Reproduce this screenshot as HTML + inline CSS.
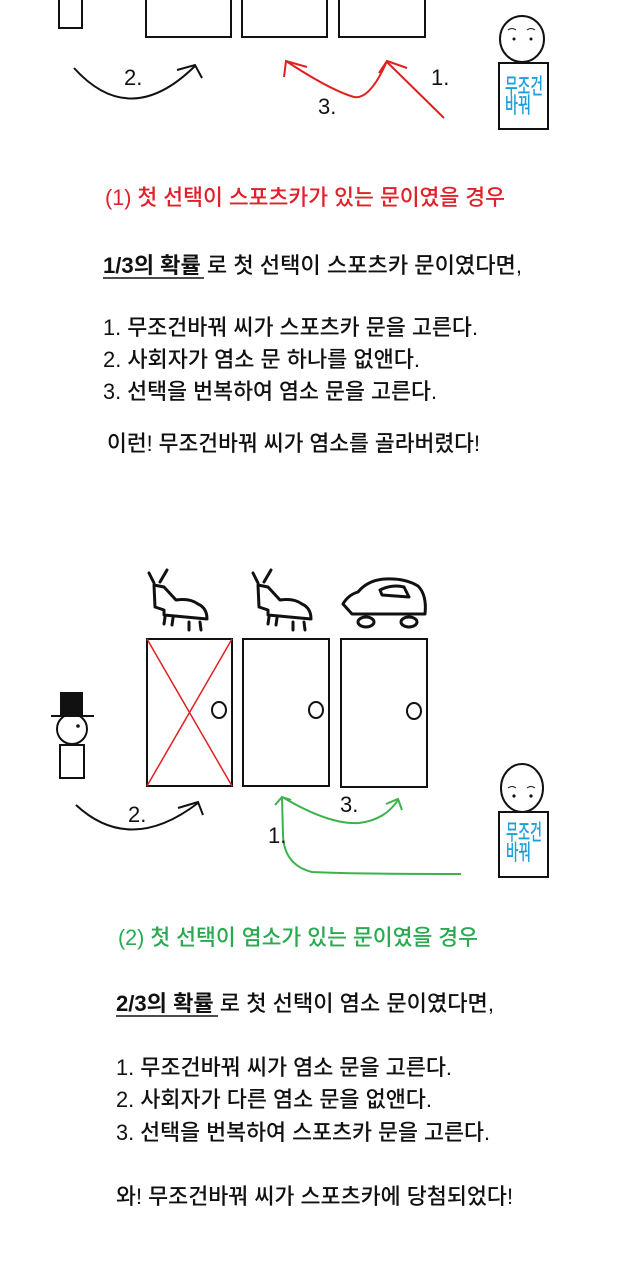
<!DOCTYPE html>
<html><head><meta charset="utf-8"><style>
html,body{margin:0;padding:0;background:#fff;width:640px;height:1280px;overflow:hidden}
text{font-family:"Liberation Sans","Noto Sans CJK KR",sans-serif;font-size:22px;font-weight:500}
</style></head><body>
<svg width="640" height="1280" viewBox="0 0 640 1280" xmlns="http://www.w3.org/2000/svg">
<g fill="none" stroke="#111" stroke-width="2">
<!-- top section -->
<rect x="59" y="-2" width="23" height="30"/>
<rect x="146" y="-2" width="85" height="39"/>
<rect x="242" y="-2" width="85" height="39"/>
<rect x="339" y="-2" width="86" height="39"/>
<ellipse cx="522" cy="39" rx="22" ry="23"/>
<rect x="499" y="63" width="49" height="66"/>
<path d="M74 68 Q130 130 195 66"/>
<path d="M177 70 L195 65 L202 78"/>
</g>
<circle cx="514" cy="39" r="1.5" fill="#111"/><circle cx="531" cy="39" r="1.5" fill="#111"/>
<path d="M508 30 Q512 27 516 30 M527 30 Q531 27 535 30" stroke="#111" fill="none" stroke-width="1"/>
<g fill="none" stroke="#e02020" stroke-width="2">
<path d="M286 61 Q330 90 354 97 Q370 100 387 61"/>
<path d="M284 77 L286 61 L307 67"/>
<path d="M379 73 L387 61 L407 68"/>
<path d="M444 118 L387 62"/>
</g>
<text x="124" y="85" font-size="13" fill="#111">2.</text>
<text x="431" y="85" font-size="13" fill="#111">1.</text>
<text x="318" y="114" font-size="13" fill="#111">3.</text>
<text x="505" y="94" font-size="14" fill="#1a9fdc" textLength="38" lengthAdjust="spacingAndGlyphs">무조건</text>
<text x="505" y="113" font-size="14" fill="#1a9fdc" textLength="26" lengthAdjust="spacingAndGlyphs">바꿔</text>

<text x="105" y="205" fill="#e0202a" textLength="400" lengthAdjust="spacingAndGlyphs">(1) 첫 선택이 스포츠카가 있는 문이였을 경우</text>
<text x="103" y="273" fill="#111" textLength="419" lengthAdjust="spacingAndGlyphs"><tspan font-weight="bold">1/3의 확률</tspan> 로 첫 선택이 스포츠카 문이였다면,</text>
<line x1="103" y1="278" x2="204" y2="278" stroke="#111" stroke-width="1.5"/>
<text x="103" y="335" fill="#111" textLength="375" lengthAdjust="spacingAndGlyphs">1. 무조건바꿔 씨가 스포츠카 문을 고른다.</text>
<text x="103" y="367" fill="#111" textLength="317" lengthAdjust="spacingAndGlyphs">2. 사회자가 염소 문 하나를 없앤다.</text>
<text x="103" y="399" fill="#111" textLength="334" lengthAdjust="spacingAndGlyphs">3. 선택을 번복하여 염소 문을 고른다.</text>
<text x="107" y="451" fill="#111" textLength="373" lengthAdjust="spacingAndGlyphs">이런! 무조건바꿔 씨가 염소를 골라버렸다!</text>

<!-- bottom diagram -->
<g fill="none" stroke="#111" stroke-width="3" stroke-linecap="round" stroke-linejoin="round">
<path d="M149 573 L154 583 M167 570 L160 582 M154 585 L164 587 L176 600 Q190 598 198 604 Q207 608 207 619 L164 615 L164 610 L155 607 L154 585 M165 617 L164 624 M173 618 L172 625 M189 622 L189 630 M200 622 L201 630"/>
<path d="M253 573 L258 583 M271 570 L264 582 M258 585 L268 587 L280 600 Q294 598 302 604 Q311 608 311 619 L268 615 L268 610 L259 607 L258 585 M269 617 L268 624 M277 618 L276 625 M293 622 L293 630 M304 622 L305 630"/>
<path d="M343 604 Q348 595 358 592 Q368 580 385 579 Q405 578 418 586 Q427 595 425 614 L352 614 Z M380 590 Q392 584 404 587 L409 597 L382 595 Z"/>
<ellipse cx="366" cy="622" rx="8" ry="5"/><ellipse cx="409" cy="622" rx="8" ry="5"/>
</g>
<g fill="none" stroke="#111" stroke-width="2">
<rect x="147" y="639" width="85" height="147"/>
<rect x="243" y="639" width="86" height="147"/>
<rect x="341" y="639" width="86" height="148"/>
<ellipse cx="219" cy="710" rx="7" ry="8"/>
<ellipse cx="316" cy="710" rx="7" ry="8"/>
<ellipse cx="414" cy="711" rx="7" ry="8"/>
<circle cx="72" cy="729" r="15"/>
<rect x="60" y="745" width="24" height="33"/>
<ellipse cx="522" cy="788" rx="21" ry="24"/>
<rect x="499" y="812" width="49" height="65"/>
<path d="M76 805 Q130 855 198 803"/>
<path d="M178 808 L198 802 L203 815"/>
</g>
<rect x="60" y="692" width="23" height="24" fill="#111"/>
<line x1="51" y1="716" x2="94" y2="716" stroke="#111" stroke-width="2"/>
<circle cx="78" cy="726" r="1.8" fill="#111"/>
<circle cx="514" cy="796" r="1.6" fill="#111"/><circle cx="531" cy="796" r="1.6" fill="#111"/>
<path d="M508 788 Q512 785 516 788 M527 788 Q531 785 535 788" stroke="#111" fill="none" stroke-width="1"/>
<g stroke="#e02020" stroke-width="1.5"><line x1="147" y1="639" x2="232" y2="786"/><line x1="232" y1="639" x2="147" y2="786"/></g>
<g fill="none" stroke="#3cb34a" stroke-width="2">
<path d="M461 874 Q350 874 312 872 Q284 865 283 835 L282 797"/>
<path d="M275 805 L282 797 L291 800"/>
<path d="M284 798 Q330 825 359 823 Q385 820 398 800"/>
<path d="M386 804 L398 799 L402 810"/>
</g>
<text x="128" y="822" font-size="13" fill="#111">2.</text>
<text x="268" y="843" font-size="13" fill="#111">1.</text>
<text x="340" y="812" font-size="13" fill="#111">3.</text>
<text x="506" y="840" font-size="14" fill="#1a9fdc" textLength="36" lengthAdjust="spacingAndGlyphs">무조건</text>
<text x="506" y="860" font-size="14" fill="#1a9fdc" textLength="25" lengthAdjust="spacingAndGlyphs">바꿔</text>

<text x="118" y="945" fill="#2aaa50" textLength="360" lengthAdjust="spacingAndGlyphs">(2) 첫 선택이 염소가 있는 문이였을 경우</text>
<text x="116" y="1011" fill="#111" textLength="378" lengthAdjust="spacingAndGlyphs"><tspan font-weight="bold">2/3의 확률</tspan> 로 첫 선택이 염소 문이였다면,</text>
<line x1="116" y1="1016" x2="218" y2="1016" stroke="#111" stroke-width="1.5"/>
<text x="116" y="1075" fill="#111" textLength="336" lengthAdjust="spacingAndGlyphs">1. 무조건바꿔 씨가 염소 문을 고른다.</text>
<text x="116" y="1107" fill="#111" textLength="316" lengthAdjust="spacingAndGlyphs">2. 사회자가 다른 염소 문을 없앤다.</text>
<text x="116" y="1140" fill="#111" textLength="374" lengthAdjust="spacingAndGlyphs">3. 선택을 번복하여 스포츠카 문을 고른다.</text>
<text x="116" y="1204" fill="#111" textLength="397" lengthAdjust="spacingAndGlyphs">와! 무조건바꿔 씨가 스포츠카에 당첨되었다!</text>
</svg>
</body></html>
